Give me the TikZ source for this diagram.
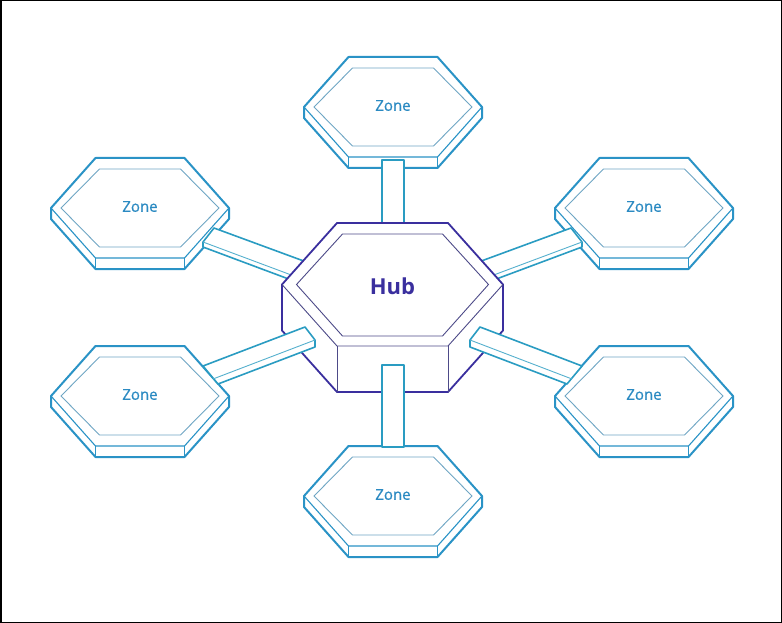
\documentclass[tikz,border=0pt]{standalone}
\usepackage{fontspec}
\setmainfont{Open Sans}
\usepackage{tikz}
\usetikzlibrary{positioning}
\definecolor{zoneblue}{HTML}{2A93C6}
\definecolor{zonelite}{HTML}{6FA6C4}
\definecolor{zonetext}{HTML}{2B8AC2}
\definecolor{barteal}{HTML}{2A9CC2}
\definecolor{hubblue}{HTML}{3A2F9E}
\definecolor{hubgray}{HTML}{4D4A88}
\tikzset{
  zoneout/.style={draw=zoneblue,line width=2pt,fill=white,line join=round},
  zoneedge/.style={draw=zoneblue,line width=1.1pt},
  zonein/.style={draw=zonelite,line width=0.9pt},
  zonelbl/.style={font=\fontsize{15}{15}\selectfont\addfontfeature{FakeBold=0.8},text=zonetext,inner sep=0pt},
  hubout/.style={draw=hubblue,line width=1.8pt,fill=white,line join=round},
  hubin/.style={draw=hubgray,line width=0.9pt},
  hublbl/.style={font=\fontsize{22}{22}\selectfont\bfseries,text=hubblue,inner sep=0pt},
  bar/.style={draw=barteal,line width=1.6pt,fill=white,line join=round},
  barin/.style={draw=barteal!80,line width=0.9pt},
}
% one zone slab: name, centre x, centre y
\newcommand{\zoneslab}[3]{%
  \begin{scope}[shift={(#2,#3)}]
    \draw[zoneout] (-44.5,-50) -- (44.5,-50) -- (89,0) -- (89,11) -- (44.5,61) -- (-44.5,61) -- (-89,11) -- (-89,0) -- cycle;
    \draw[zoneedge] (-89,0) -- (-44.5,50) -- (44.5,50) -- (89,0);
    \draw[zoneedge] (-44.5,50) -- (-44.5,61) (44.5,50) -- (44.5,61);
    \draw[zonein] (-40.5,-39) -- (40.5,-39) -- (79,0) -- (40.5,39) -- (-40.5,39) -- (-79,0) -- cycle;
    \node[zonelbl] (#1) at (0,-1.5) {Zone};
  \end{scope}}

\begin{document}
\begin{tikzpicture}[x=1pt,y=-1pt]
  \useasboundingbox (0,0) rectangle (782,623);
  \draw[black,line width=1.5pt] (0.75,0.75) rectangle (781.25,622.25);

  % zones
  \zoneslab{ztop}{393}{107}
  \zoneslab{zlt}{140}{208}
  \zoneslab{zrt}{644}{208}
  \zoneslab{zlb}{140}{396}
  \zoneslab{zrb}{644}{396}
  \zoneslab{zbot}{393}{496}

  % bars behind the hub
  \draw[bar] (382,160) rectangle (404,223);
  \draw[bar] (214,228) -- (320,267) -- (310,287) -- (203,247) -- (203,242) -- cycle;
  \draw[barin] (203,242) -- (310,282);
  \draw[bar] (571,228) -- (465,267) -- (475,287) -- (582,247) -- (582,242) -- cycle;
  \draw[barin] (582,242) -- (475,282);

  % hub
  \begin{scope}[shift={(392.5,284.5)}]
    \draw[hubout] (-55.5,-61.5) -- (55.5,-61.5) -- (110.5,0) -- (110.5,46) -- (55.5,107.5) -- (-55.5,107.5) -- (-110.5,46) -- (-110.5,0) -- cycle;
    \draw[hubin] (-110.5,0) -- (-55.5,61.5) -- (55.5,61.5) -- (110.5,0);
    \draw[hubin] (-55.5,61.5) -- (-55.5,107.5) (55.5,61.5) -- (55.5,107.5);
    \draw[hubin] (-50,-50.5) -- (50,-50.5) -- (96,0) -- (50,51.5) -- (-50,51.5) -- (-96,0) -- cycle;
    \node[hublbl] (hub) at (0,2) {Hub};
  \end{scope}

  % bars in front of the hub
  \draw[bar] (203,366) -- (305,327) -- (315,340) -- (315,347) -- (218,384) -- cycle;
  \draw[barin] (315,340) -- (213,379);
  \draw[bar] (582,366) -- (480,327) -- (470,340) -- (470,347) -- (567,384) -- cycle;
  \draw[barin] (470,340) -- (572,379);
  \draw[bar] (382,365) rectangle (404,447);
\end{tikzpicture}
\end{document}
